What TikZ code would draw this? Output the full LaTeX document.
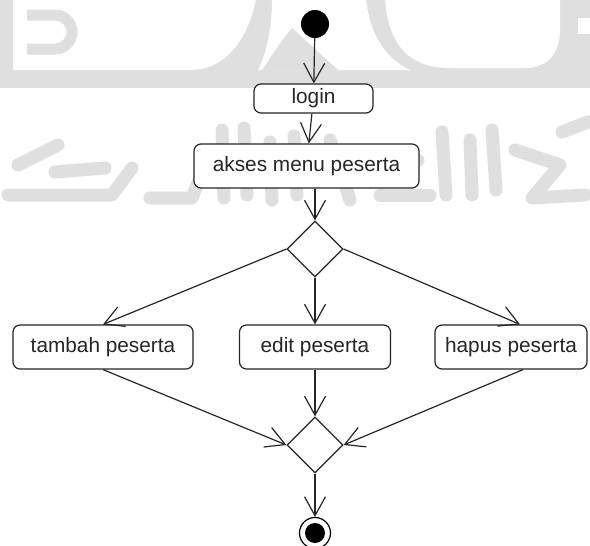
\documentclass[tikz,border=0pt]{standalone}
\usepackage{fontspec}
\setmainfont{Liberation Sans}
\usetikzlibrary{arrows.meta,shapes.geometric}
\definecolor{wm}{HTML}{DFDFDF}
\definecolor{ink}{HTML}{262626}
\tikzset{
  flow/.style={draw=ink, line width=1.2pt, -{Straight Barb[length=19pt,width=21pt,line width=1.2pt]}},
  act/.style={draw=ink, line width=1.2pt, rounded corners=7pt, fill=white, text=ink,
              inner sep=0pt, font=\fontsize{20.8}{24}\selectfont},
  dec/.style={draw=ink, line width=1.2pt, diamond, fill=white, inner sep=0pt,
              minimum width=56pt, minimum height=56pt},
  initial/.style={circle, fill=black, inner sep=0pt, minimum size=28pt},
  finalring/.style={circle, draw=black, line width=1.2pt, fill=white, inner sep=0pt, minimum size=31pt},
  finaldot/.style={circle, fill=black, inner sep=0pt, minimum size=20pt},
  wmstroke/.style={draw=wm, line width=13pt, line cap=round, line join=round},
}
\begin{document}
\begin{tikzpicture}[x=1pt,y=-1pt]
\useasboundingbox (0,0) rectangle (590,546);
\fill[white] (0,0) rectangle (590,546);

% faint emblem in the background: upper band
\fill[wm] (0,0) rectangle (590,88);
\fill[white] (13,-1) -- (13,70) -- (190,70) .. controls (225,70) and (248,40) .. (256,-1) -- cycle;
\draw[wm, line width=11pt] (27,15) -- (55,15) arc[start angle=90, end angle=-90, radius=17pt] -- (27,49);
\fill[white] (272,-1) -- (366,-1) .. controls (370,35) and (385,58) .. (410,70)
  -- (258,70) .. controls (268,50) and (272,25) .. cycle;
\fill[wm] (292,28) -- (338,70) -- (262,70) .. controls (272,55) and (282,40) .. cycle;
\fill[white] (385,-1) .. controls (388,40) and (405,68) .. (450,68) -- (525,68)
  .. controls (550,68) and (560,50) .. (560,30) -- (560,-1) -- cycle;
\fill[white] (578,18) rectangle (591,34);

% faint emblem in the background: calligraphy band
\draw[wmstroke] (18,165) -- (58,145);
\draw[wmstroke] (8,195) -- (112,195) -- (132,168);
\draw[wmstroke] (55,172) -- (105,168);
\draw[wmstroke] (150,198) -- (192,198) -- (202,172);
\draw[wmstroke] (222,130) -- (224,198);
\draw[wmstroke] (244,128) -- (247,195);
\draw[wmstroke] (270,142) -- (272,200);
\draw[wmstroke] (294,136) -- (297,195);
\draw[wmstroke] (330,140) -- (350,200);
\draw[wmstroke] (362,160) -- (418,160);
\draw[wmstroke] (380,195) -- (430,195);
\draw[wmstroke] (442,132) -- (446,195);
\draw[wmstroke] (470,140) -- (472,195);
\draw[wmstroke] (492,130) -- (496,190);
\draw[wmstroke] (515,150) -- (560,165) -- (532,198) -- (585,195);
\draw[wmstroke] (562,132) -- (588,122);

% activity diagram
\node[initial] (start) at (315,24) {};
\node[act, minimum width=119pt, minimum height=29pt] (login) at (313.5,98.5) {login};
\node[act, minimum width=225pt, minimum height=44pt] (akses) at (306.5,166) {akses menu peserta};
\node[dec] (d1) at (315,249) {};
\node[act, minimum width=180pt, minimum height=44pt] (tambah) at (103,347) {tambah peserta};
\node[act, minimum width=151pt, minimum height=44pt] (edit) at (315,347) {edit peserta};
\node[act, minimum width=152pt, minimum height=44pt] (hapus) at (511,347) {hapus peserta};
\node[dec] (d2) at (315,445) {};
\node[finalring] (end) at (315,533) {};
\node[finaldot] (enddot) at (end.center) {};

\draw[flow] (start) -- (login);
\draw[flow] (login) -- (akses);
\draw[flow] (akses.south -| d1.north) -- (d1.north);
\draw[flow] (d1.west) -- (tambah.north);
\draw[flow] (d1.south) -- (edit.north -| d1.south);
\draw[flow] (d1.east) -- ([xshift=9pt]hapus.north);
\draw[flow] (tambah.south) -- (d2.west);
\draw[flow] (edit.south -| d2.north) -- (d2.north);
\draw[flow] ([xshift=12pt]hapus.south) -- (d2.east);
\draw[flow] (d2.south) -- (end.north);
\end{tikzpicture}
\end{document}
